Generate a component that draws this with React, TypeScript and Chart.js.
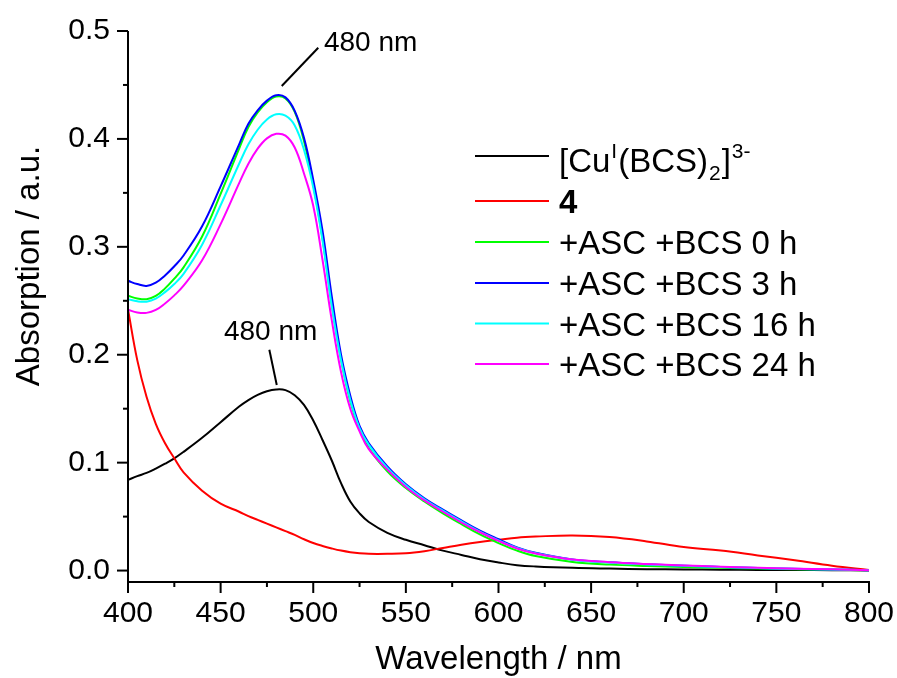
import React, { useEffect, useRef } from 'react';
import { Chart, registerables } from 'chart.js';

Chart.register(...registerables);

// ---------- data ----------
const wavelengths = [
  400, 405, 410, 415, 420, 425, 430, 440, 450, 460, 465, 470, 475, 480, 485, 490, 495, 500,
  505, 510, 515, 520, 525, 530, 540, 550, 560, 570, 580, 590, 600, 610, 620, 640, 660, 680,
  700, 720, 740, 760, 780, 800,
];

const cuBcs = [
  0.084, 0.0875, 0.0905, 0.0945, 0.099, 0.104, 0.110, 0.123, 0.1375, 0.152, 0.158, 0.1628,
  0.1662, 0.1678, 0.1672, 0.1625, 0.1535, 0.139, 0.121, 0.102, 0.081, 0.064, 0.053, 0.045,
  0.035, 0.0285, 0.0235, 0.0185, 0.0145, 0.0105, 0.0075, 0.005, 0.0038, 0.0025, 0.0018,
  0.0013, 0.001, 0.0008, 0.0006, 0.0005, 0.0003, 0.0001,
];

const compound4 = [
  0.242, 0.195, 0.161, 0.136, 0.118, 0.104, 0.091, 0.074, 0.062, 0.0545, 0.0505, 0.047,
  0.0435, 0.040, 0.0365, 0.033, 0.029, 0.0255, 0.0228, 0.0205, 0.0185, 0.017, 0.016, 0.0155,
  0.0155, 0.016, 0.018, 0.021, 0.024, 0.0265, 0.0285, 0.0305, 0.0315, 0.0325, 0.031, 0.027,
  0.0218, 0.0185, 0.014, 0.0095, 0.0045, 0.0005,
];

const asc0h = [
  0.2546, 0.2522, 0.2515, 0.2545, 0.2615, 0.2705, 0.281, 0.3095, 0.349, 0.391, 0.411, 0.4245,
  0.434, 0.4392, 0.4375, 0.425, 0.398, 0.358, 0.308, 0.247, 0.196, 0.157, 0.131, 0.1135,
  0.092, 0.0765, 0.064, 0.053, 0.043, 0.0335, 0.0255, 0.0185, 0.0135, 0.008, 0.0055, 0.0042,
  0.0033, 0.0025, 0.0018, 0.0012, 0.0008, 0.0003,
];

const asc3h = [
  0.2685, 0.2655, 0.2638, 0.2668, 0.2735, 0.282, 0.292, 0.319, 0.356, 0.395, 0.414, 0.4265,
  0.4355, 0.4405, 0.4385, 0.426, 0.401, 0.362, 0.315, 0.254, 0.2, 0.162, 0.134, 0.118,
  0.0965, 0.08, 0.067, 0.0565, 0.0465, 0.037, 0.029, 0.0215, 0.0165, 0.0103, 0.0076, 0.0059,
  0.0045, 0.0034, 0.0024, 0.0016, 0.001, 0.0003,
];

const asc16h = [
  0.2515, 0.2495, 0.2492, 0.252, 0.258, 0.2655, 0.275, 0.302, 0.3385, 0.377, 0.395, 0.4085,
  0.418, 0.4228, 0.4215, 0.4125, 0.39, 0.355, 0.306, 0.245, 0.195, 0.158, 0.132, 0.1165,
  0.095, 0.079, 0.066, 0.0555, 0.0455, 0.036, 0.028, 0.021, 0.016, 0.01, 0.0074, 0.0057,
  0.0044, 0.0033, 0.0023, 0.0015, 0.001, 0.0003,
];

const asc24h = [
  0.2417, 0.2392, 0.2388, 0.2415, 0.2475, 0.255, 0.264, 0.2875, 0.321, 0.359, 0.377, 0.391,
  0.4005, 0.4047, 0.403, 0.392, 0.368, 0.338, 0.288, 0.232, 0.184, 0.15, 0.129, 0.1125,
  0.0935, 0.0775, 0.065, 0.0545, 0.0445, 0.0355, 0.0275, 0.0205, 0.0158, 0.0102, 0.0078,
  0.0061, 0.0047, 0.0036, 0.0026, 0.0017, 0.0011, 0.0003,
];

const seriesLabels = [
  '[CuI(BCS)2]3-',
  '4',
  '+ASC +BCS 0 h',
  '+ASC +BCS 3 h',
  '+ASC +BCS 16 h',
  '+ASC +BCS 24 h',
];
const seriesColors = ['#000000', '#ff0000', '#00ff00', '#0000ff', '#00ffff', '#ff00ff'];
const seriesValues = [cuBcs, compound4, asc0h, asc3h, asc16h, asc24h];

// rich segments for the first legend label
const cuLabelParts = [
  { text: '[Cu', kind: 'normal' },
  { text: 'I', kind: 'sup' },
  { text: '(BCS)', kind: 'normal' },
  { text: '2', kind: 'sub' },
  { text: ']', kind: 'normal' },
  { text: '3-', kind: 'sup' },
];

const xTicks = [400, 450, 500, 550, 600, 650, 700, 750, 800];
const yTicks = [0.0, 0.1, 0.2, 0.3, 0.4, 0.5];
const xTitle = 'Wavelength / nm';
const yTitle = 'Absorption / a.u.';
const peakText = '480 nm';
// annotation anchors in data coordinates
const peakNoteTop = { text: [531, 0.489], from: [483, 0.449], to: [502.7, 0.4845] };
const peakNoteLow = { text: [477, 0.2205], from: [476.3, 0.2046], to: [480.3, 0.172] };

const FONT = '"Liberation Sans", Arial, sans-serif';

const overlayPlugin = {
  id: 'overlay',
  afterDraw(chart: any) {
    const { ctx, chartArea } = chart;
    const x = chart.scales.x;
    const y = chart.scales.y;
    ctx.save();
    ctx.strokeStyle = '#000';
    ctx.fillStyle = '#000';
    ctx.lineWidth = 2;
    ctx.lineCap = 'butt';

    // axes lines
    ctx.beginPath();
    ctx.moveTo(chartArea.left, chartArea.top);
    ctx.lineTo(chartArea.left, chartArea.bottom);
    ctx.lineTo(chartArea.right + 1, chartArea.bottom);
    ctx.stroke();

    // x ticks (major + minor)
    for (let i = 0; i < xTicks.length; i++) {
      const px = x.getPixelForValue(xTicks[i]);
      ctx.beginPath();
      ctx.moveTo(px, chartArea.bottom);
      ctx.lineTo(px, chartArea.bottom + 11);
      ctx.stroke();
      if (i < xTicks.length - 1) {
        const mx = x.getPixelForValue((xTicks[i] + xTicks[i + 1]) / 2);
        ctx.beginPath();
        ctx.moveTo(mx, chartArea.bottom);
        ctx.lineTo(mx, chartArea.bottom + 5);
        ctx.stroke();
      }
    }
    // y ticks (major + minor)
    for (let i = 0; i < yTicks.length; i++) {
      const py = y.getPixelForValue(yTicks[i]);
      ctx.beginPath();
      ctx.moveTo(chartArea.left, py);
      ctx.lineTo(chartArea.left - 11, py);
      ctx.stroke();
      if (i < yTicks.length - 1) {
        const my = y.getPixelForValue((yTicks[i] + yTicks[i + 1]) / 2);
        ctx.beginPath();
        ctx.moveTo(chartArea.left, my);
        ctx.lineTo(chartArea.left - 5, my);
        ctx.stroke();
      }
    }

    // axis titles
    ctx.font = `33px ${FONT}`;
    ctx.textAlign = 'center';
    ctx.textBaseline = 'alphabetic';
    ctx.fillText(xTitle, (chartArea.left + chartArea.right) / 2, 669);
    ctx.save();
    ctx.translate(30, 266);
    ctx.rotate(-Math.PI / 2);
    ctx.textBaseline = 'middle';
    ctx.fillText(yTitle, 0, 0);
    ctx.restore();

    // peak annotations
    ctx.font = `28px ${FONT}`;
    ctx.textBaseline = 'middle';
    ctx.textAlign = 'center';
    for (const note of [peakNoteTop, peakNoteLow]) {
      ctx.beginPath();
      ctx.moveTo(x.getPixelForValue(note.from[0]), y.getPixelForValue(note.from[1]));
      ctx.lineTo(x.getPixelForValue(note.to[0]), y.getPixelForValue(note.to[1]));
      ctx.stroke();
      ctx.fillText(peakText, x.getPixelForValue(note.text[0]), y.getPixelForValue(note.text[1]));
    }

    // legend
    const rowY = [156, 201, 242, 283, 323.5, 364];
    const lineX0 = 475;
    const lineX1 = 549;
    const textX = 559;
    ctx.textAlign = 'left';
    ctx.textBaseline = 'alphabetic';
    for (let i = 0; i < seriesLabels.length; i++) {
      ctx.strokeStyle = seriesColors[i];
      ctx.lineWidth = 2;
      ctx.beginPath();
      ctx.moveTo(lineX0, rowY[i]);
      ctx.lineTo(lineX1, rowY[i]);
      ctx.stroke();
      ctx.fillStyle = '#000';
      if (i === 0) {
        let cx = textX;
        const base = 172;
        for (const part of cuLabelParts) {
          if (part.kind === 'normal') {
            ctx.font = `33px ${FONT}`;
            ctx.fillText(part.text, cx, base);
            cx += ctx.measureText(part.text).width;
          } else if (part.kind === 'sup') {
            ctx.font = `21px ${FONT}`;
            ctx.fillText(part.text, cx + 1, base - 14);
            cx += ctx.measureText(part.text).width + 2;
          } else {
            ctx.font = `21px ${FONT}`;
            ctx.fillText(part.text, cx + 1, base + 8);
            cx += ctx.measureText(part.text).width + 2;
          }
        }
      } else if (i === 1) {
        ctx.font = `bold 33px ${FONT}`;
        ctx.fillText(seriesLabels[i], textX, rowY[i] + 12);
      } else {
        ctx.font = `33px ${FONT}`;
        ctx.fillText(seriesLabels[i], textX, rowY[i] + 12);
      }
    }
    ctx.restore();
  },
};

export default function App() {
  const canvasRef = useRef<HTMLCanvasElement | null>(null);

  useEffect(() => {
    if (!canvasRef.current) return;
    Chart.defaults.font.family = FONT;
    Chart.defaults.color = '#000';
    const datasets = seriesValues.map((vals, i) => ({
      label: seriesLabels[i],
      data: vals.map((v, j) => ({ x: wavelengths[j], y: v })),
      borderColor: seriesColors[i],
      backgroundColor: seriesColors[i],
      borderWidth: 2,
      pointRadius: 0,
      fill: false,
      tension: 0.4,
      order: seriesValues.length - i,
    }));
    const chart = new Chart(canvasRef.current, {
      type: 'line',
      data: { datasets },
      options: {
        responsive: false,
        animation: false,
        devicePixelRatio: 1,
        layout: { padding: { top: 31, right: 28, left: 0, bottom: 0 } },
        plugins: {
          legend: { display: false },
          tooltip: { enabled: false },
          title: { display: false },
        },
        scales: {
          x: {
            type: 'linear',
            min: 400,
            max: 800,
            afterBuildTicks: (s: any) => {
              s.ticks = xTicks.map((v) => ({ value: v }));
            },
            afterFit: (s: any) => {
              s.height = 96;
            },
            grid: { display: false, drawTicks: true, tickLength: 11 },
            border: { display: false },
            ticks: {
              font: { size: 30 },
              color: '#000',
              padding: 3,
              maxRotation: 0,
              autoSkip: false,
              callback: (v: any) => String(v),
            },
          },
          y: {
            type: 'linear',
            min: -0.0106,
            max: 0.5,
            afterBuildTicks: (s: any) => {
              s.ticks = yTicks.map((v) => ({ value: v }));
            },
            afterFit: (s: any) => {
              s.width = 128;
            },
            grid: { display: false, drawTicks: true, tickLength: 11 },
            border: { display: false },
            ticks: {
              font: { size: 30 },
              color: '#000',
              padding: 7,
              autoSkip: false,
              callback: (v: any) => Number(v).toFixed(1),
            },
          },
        },
      },
      plugins: [overlayPlugin],
    });
    return () => chart.destroy();
  }, []);

  return (
    <div style={{ position: 'absolute', left: 0, top: 0, width: 897, height: 678, background: '#fff' }}>
      <canvas ref={canvasRef} width={897} height={678} style={{ width: 897, height: 678, display: 'block' }} />
    </div>
  );
}
